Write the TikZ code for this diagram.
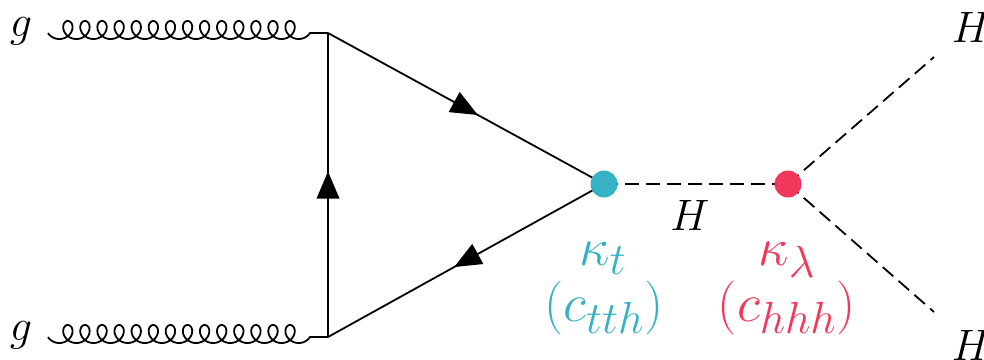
\documentclass[tikz,border=0pt]{standalone}
\usetikzlibrary{decorations.markings}
\definecolor{kcyan}{RGB}{54,178,196}
\definecolor{kred}{RGB}{242,56,90}
\begin{document}
\begin{tikzpicture}[x=0.5pt,y=-0.5pt,line width=0.9pt,
  fermion/.style={draw,postaction={decorate},decoration={markings,
     mark=at position 0.5 with {\fill (6.75pt,0pt) -- (-6.75pt,5.75pt) -- (-6.75pt,-5.75pt) -- cycle;}}},
  scalar/.style={draw,dash pattern=on 7pt off 3.5pt},
  gluon/.style={draw},
  vdot/.style={circle,fill=#1,inner sep=0pt,minimum size=13.5pt},
  lab/.style={inner sep=0pt,font=\Huge,scale=0.884},
  coup/.style={inner sep=0pt,font=\Huge,scale=1.085}]
\useasboundingbox (0,0) rectangle (984,359);
% vertices
\coordinate (v1) at (328,33);
\coordinate (v3) at (328,337);
\coordinate (vt) at (604,184);
\coordinate (vl) at (788,184);
\coordinate (h1) at (934,57);
\coordinate (h2) at (934,312);
% gluons
\draw[gluon] plot[domain=-70:5110,samples=1400,variable=\t]
  ({48+0.047491*(\t+70)+8.5*(sin(\t)+0.9397)},{30+9*cos(\t)}) -- (v1);
\draw[gluon] plot[domain=-70:5110,samples=1400,variable=\t]
  ({48+0.047491*(\t+70)+8.5*(sin(\t)+0.9397)},{334+9*cos(\t)}) -- (v3);
% fermion loop
\draw[fermion] (v3) -- (v1);
\draw[fermion] (v1) -- (vt);
\draw[fermion] (vt) -- (v3);
% Higgs lines
\draw[scalar] (vt) -- (vl);
\draw[scalar] (vl) -- (h1);
\draw[scalar] (vl) -- (h2);
% dots
\node[vdot=kcyan] (dt) at (vt) {};
\node[vdot=kred] (dl) at (vl) {};
% labels
\node[lab,anchor=base] (g1) at (21,36) {$g$};
\node[lab,anchor=base] (g2) at (21,340) {$g$};
\node[lab,anchor=base] (hm) at (690,230) {$H$};
\node[lab,anchor=base west] (ht) at (951,42) {$H$};
\node[lab,anchor=base west] (hb) at (951,360) {$H$};
\node[coup,anchor=base,text=kcyan] (kt) at (603,265) {$\kappa_t$};
\node[coup,anchor=base,text=kcyan] (ct) at (604,321) {$(c_{tth})$};
\node[coup,anchor=base,text=kred] (kl) at (787,265) {$\kappa_\lambda$};
\node[coup,anchor=base,text=kred] (cl) at (787,321) {$(c_{hhh})$};
\end{tikzpicture}
\end{document}
